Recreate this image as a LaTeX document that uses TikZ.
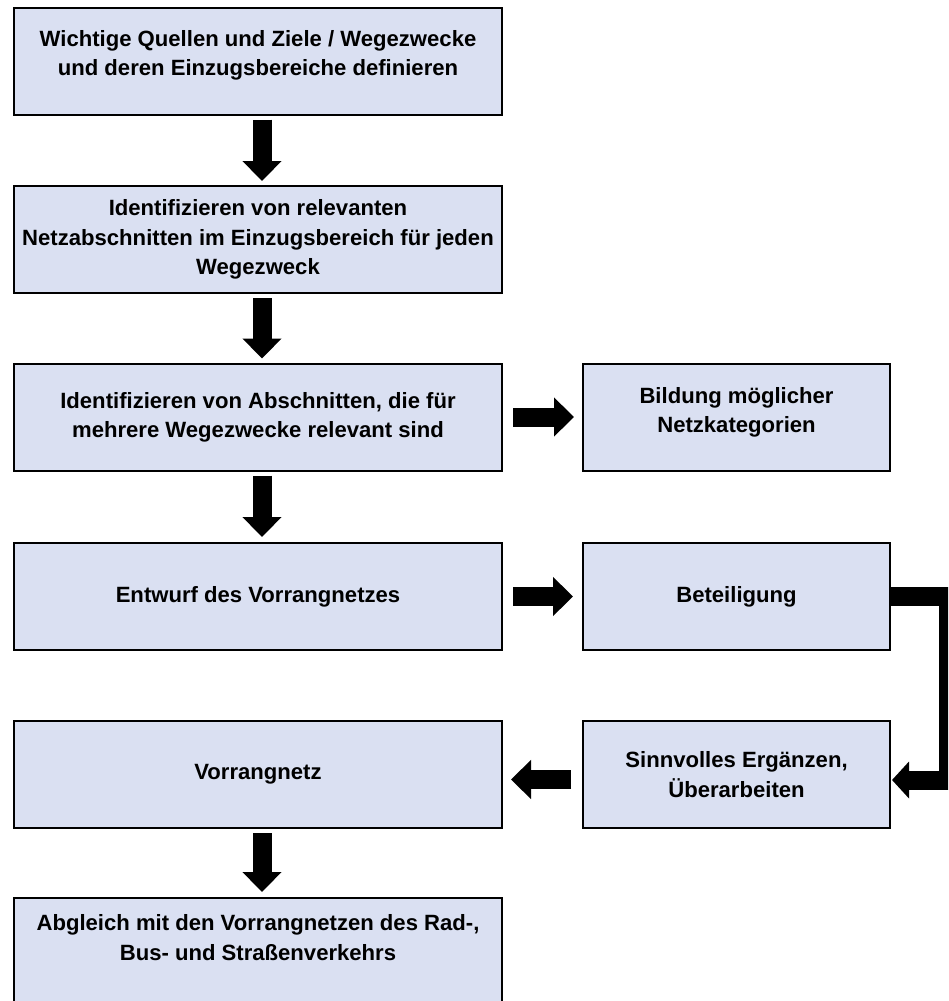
\documentclass[tikz,border=0pt]{standalone}
\usepackage{fontspec}
\setmainfont{Liberation Sans}
\usetikzlibrary{arrows.meta}
\definecolor{boxfill}{RGB}{218,224,242}
\newcommand\bt[3]{\parbox[c][100pt][c]{#1}{\centering #3\par\vspace{#2}}}
\begin{document}
\begin{tikzpicture}[x=1pt,y=-1pt,
  box/.style={draw=black, line width=2pt, fill=boxfill, inner sep=0pt,
    font=\fontsize{22.1}{29.2}\selectfont\bfseries},
  lbox/.style={box, minimum width=488pt, minimum height=107pt},
  rbox/.style={box, minimum width=307pt, minimum height=107pt},
  blk/.style={line width=19pt, line join=miter,
    -{Triangle[width=38pt,length=20pt]}},
  blksmall/.style={line width=19pt, line join=miter,
    -{Triangle[width=36pt,length=17pt]}}]
\useasboundingbox (0,0) rectangle (948,1001);
\clip (0,0) rectangle (948,1001);
\node[lbox] (b1) at (258,61) {\bt{480pt}{12pt}{Wichtige Quellen und Ziele / Wegezwecke\\und deren Einzugsbereiche definieren}};
\node[lbox] (b2) at (258,239.5) {\bt{486pt}{0pt}{Identifizieren von relevanten\\Netzabschnitten im Einzugsbereich für jeden\\Wegezweck}};
\node[lbox] (b3) at (258,417) {\bt{480pt}{0pt}{Identifizieren von Abschnitten, die für\\mehrere Wegezwecke relevant sind}};
\node[rbox] (r3) at (736.5,417) {\bt{300pt}{9pt}{Bildung möglicher\\Netzkategorien}};
\node[lbox] (b4) at (258,596.5) {\bt{480pt}{0pt}{Entwurf des Vorrangnetzes}};
\node[rbox] (r4) at (736.5,596.5) {\bt{300pt}{0pt}{Beteiligung}};
\node[lbox] (b5) at (258,774.5) {\bt{480pt}{0pt}{Vorrangnetz}};
\node[rbox] (r5) at (736.5,774.5) {\bt{300pt}{0pt}{Sinnvolles Ergänzen,\\Überarbeiten}};
\node[lbox, minimum height=108pt] (b6) at (258,952) {\bt{480pt}{29pt}{Abgleich mit den Vorrangnetzen des Rad-,\\Bus- und Straßenverkehrs}};
\coordinate (ex) at (948,0);
\draw[blk, shorten <=4pt, shorten >=4pt] ([xshift=4pt]b1.south) -- ([xshift=4pt]b2.north);
\draw[blk, shorten <=4pt, shorten >=4pt] ([xshift=4pt]b2.south) -- ([xshift=4pt]b3.north);
\draw[blk, shorten <=4pt, shorten >=5pt] ([xshift=4pt]b3.south) -- ([xshift=4pt]b4.north);
\draw[blk, shorten <=4pt, shorten >=5pt] ([xshift=4pt]b5.south) -- ([xshift=4pt]b6.north);
\draw[blk, shorten <=10pt, shorten >=8pt] (b3.east) -- (r3.west);
\draw[blk, shorten <=10pt, shorten >=9pt] (b4.east) -- (r4.west);
\draw[blk, shorten <=11pt, shorten >=8pt] ([yshift=-5pt]r5.west) -- ([yshift=-5pt]b5.east);
\draw[blksmall, shorten >=1pt] (r4.east) -- (r4.east -| ex) |- ([yshift=-5.5pt]r5.east);
\end{tikzpicture}
\end{document}
